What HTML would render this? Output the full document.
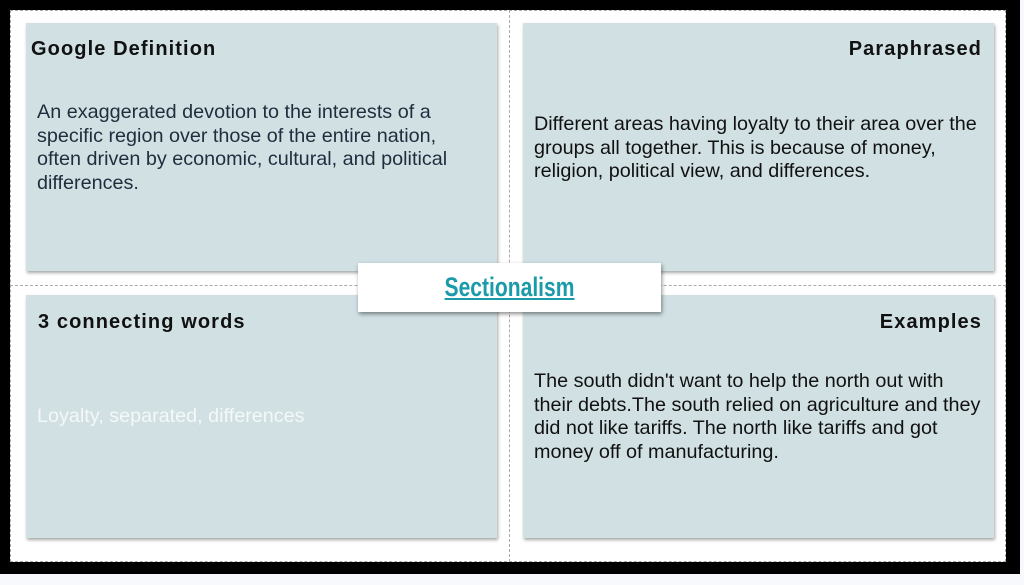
<!DOCTYPE html>
<html><head><style>
html,body{margin:0;padding:0;width:1024px;height:585px;background:#f8f9fd;overflow:hidden;font-family:"Liberation Sans",sans-serif}
.blk{position:absolute;left:0;top:0;width:1020px;height:574px;background:#000}
.slide{position:absolute;left:10px;top:10px;width:996px;height:552px;background:#fff;box-sizing:border-box;border:1px dashed #aaa}
.vl{position:absolute;left:509px;top:10px;height:552px;border-left:1px dashed #aaa}
.hl{position:absolute;top:285px;left:10px;width:996px;border-top:1px dashed #aaa}
.box{position:absolute;background:#d0e0e3;box-shadow:1px 2px 3px rgba(0,0,0,.35)}
.h{position:absolute;font-weight:bold;font-size:20px;color:#111;letter-spacing:1.1px}
.t{position:absolute;font-size:19.8px;line-height:23.5px;white-space:nowrap}
.c{position:absolute;left:358px;top:263px;width:303px;height:49px;background:#fff;box-shadow:1px 2px 4px rgba(0,0,0,.45)}
.c span{position:absolute;left:0;width:303px;top:0;text-align:center;line-height:49px;font-weight:bold;font-size:27px;color:#1b9aaa;text-decoration:underline;transform:scaleX(.78)}
</style></head><body>
<div class="blk"></div>
<div class="slide"></div>
<div class="vl"></div><div class="hl"></div>
<div class="box" style="left:26px;top:23px;width:471px;height:248px">
 <div class="h" style="left:5px;top:15px">Google Definition</div>
 <div class="t" style="left:11px;top:78px;color:#1f2d3d">An exaggerated devotion to the interests of a<br>specific region over those of the entire nation,<br>often driven by economic, cultural, and political<br>differences.</div>
</div>
<div class="box" style="left:523px;top:23px;width:471px;height:248px">
 <div class="h" style="right:12px;top:15px">Paraphrased</div>
 <div class="t" style="left:11px;top:90px;color:#111">Different areas having loyalty to their area over the<br>groups all together. This is because of money,<br>religion, political view, and differences.</div>
</div>
<div class="box" style="left:26px;top:295px;width:471px;height:243px">
 <div class="h" style="left:12px;top:16px">3 connecting words</div>
 <div class="t" style="left:11px;top:110px;color:#f4f8f8">Loyalty, separated, differences</div>
</div>
<div class="box" style="left:523px;top:295px;width:471px;height:243px">
 <div class="h" style="right:12px;top:16px">Examples</div>
 <div class="t" style="left:11px;top:75px;color:#111">The south didn't want to help the north out with<br>their debts.The south relied on agriculture and they<br>did not like tariffs. The north like tariffs and got<br>money off of manufacturing.</div>
</div>
<div class="c"><span>Sectionalism</span></div>
</body></html>
